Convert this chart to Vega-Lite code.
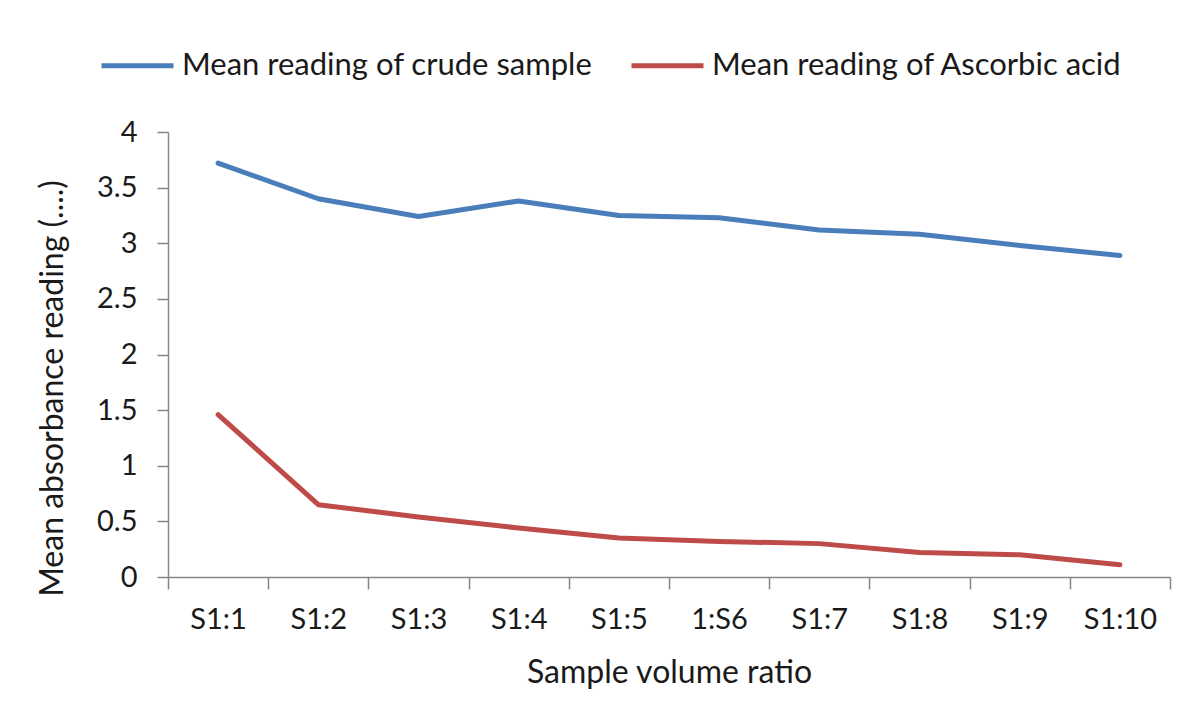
{
  "$schema": "https://vega.github.io/schema/vega-lite/v6.json",
  "autosize": "none",
  "width": 1002,
  "height": 445,
  "padding": {"left": 168, "top": 132, "right": 20, "bottom": 138},
  "background": "white",
  "config": {
    "font": "Lato",
    "view": {"stroke": null},
    "axis": {"grid": false, "domainColor": "#868686", "tickColor": "#868686", "domainWidth": 1.5, "tickWidth": 1.5, "labelColor": "#1a1a1a", "titleColor": "#1a1a1a", "labelFont": "Lato", "titleFont": "Lato", "titleFontWeight": "normal"}
  },
  "data": {
    "values": [
      {"ratio": "S1:1", "series": "Mean reading of crude sample", "value": 3.72},
      {"ratio": "S1:2", "series": "Mean reading of crude sample", "value": 3.40},
      {"ratio": "S1:3", "series": "Mean reading of crude sample", "value": 3.24},
      {"ratio": "S1:4", "series": "Mean reading of crude sample", "value": 3.38},
      {"ratio": "S1:5", "series": "Mean reading of crude sample", "value": 3.25},
      {"ratio": "1:S6", "series": "Mean reading of crude sample", "value": 3.23},
      {"ratio": "S1:7", "series": "Mean reading of crude sample", "value": 3.12},
      {"ratio": "S1:8", "series": "Mean reading of crude sample", "value": 3.08},
      {"ratio": "S1:9", "series": "Mean reading of crude sample", "value": 2.98},
      {"ratio": "S1:10", "series": "Mean reading of crude sample", "value": 2.89},
      {"ratio": "S1:1", "series": "Mean reading of Ascorbic acid", "value": 1.46},
      {"ratio": "S1:2", "series": "Mean reading of Ascorbic acid", "value": 0.65},
      {"ratio": "S1:3", "series": "Mean reading of Ascorbic acid", "value": 0.54},
      {"ratio": "S1:4", "series": "Mean reading of Ascorbic acid", "value": 0.44},
      {"ratio": "S1:5", "series": "Mean reading of Ascorbic acid", "value": 0.35},
      {"ratio": "1:S6", "series": "Mean reading of Ascorbic acid", "value": 0.32},
      {"ratio": "S1:7", "series": "Mean reading of Ascorbic acid", "value": 0.30},
      {"ratio": "S1:8", "series": "Mean reading of Ascorbic acid", "value": 0.22},
      {"ratio": "S1:9", "series": "Mean reading of Ascorbic acid", "value": 0.20},
      {"ratio": "S1:10", "series": "Mean reading of Ascorbic acid", "value": 0.11}
    ]
  },
  "mark": {"type": "line", "strokeWidth": 5, "strokeCap": "round", "strokeJoin": "round"},
  "encoding": {
    "x": {
      "field": "ratio", "type": "nominal", "sort": null, "bandPosition": 0.5,
      "scale": {"type": "band", "paddingInner": 0, "paddingOuter": 0},
      "axis": {"title": "Sample volume ratio", "labelAngle": 0, "labelFontSize": 29, "titleFontSize": 32, "tickSize": 12, "tickBand": "extent", "labelPadding": 16, "titleY": 95, "titleBaseline": "middle"}
    },
    "y": {
      "field": "value", "type": "quantitative",
      "scale": {"domain": [0, 4], "nice": false},
      "axis": {"title": "Mean absorbance reading (....)", "values": [0, 0.5, 1, 1.5, 2, 2.5, 3, 3.5, 4], "format": "~g", "labelFontSize": 29, "titleFontSize": 32, "tickSize": 11, "labelPadding": 20, "titleX": -116, "titleY": 256, "titleAlign": "center", "titleBaseline": "middle", "titleAngle": -90}
    },
    "color": {
      "field": "series", "type": "nominal", "sort": null,
      "scale": {"domain": ["Mean reading of crude sample", "Mean reading of Ascorbic acid"], "range": ["#4A7EBB", "#BE4B48"]},
      "legend": {"title": null, "orient": "none", "direction": "horizontal", "legendX": -69, "legendY": -105, "symbolType": "stroke", "symbolSize": 5184, "symbolStrokeWidth": 5, "labelFontSize": 31, "labelLimit": 0, "labelColor": "#1a1a1a", "labelOffset": 6, "columnPadding": 28}
    }
  }
}
